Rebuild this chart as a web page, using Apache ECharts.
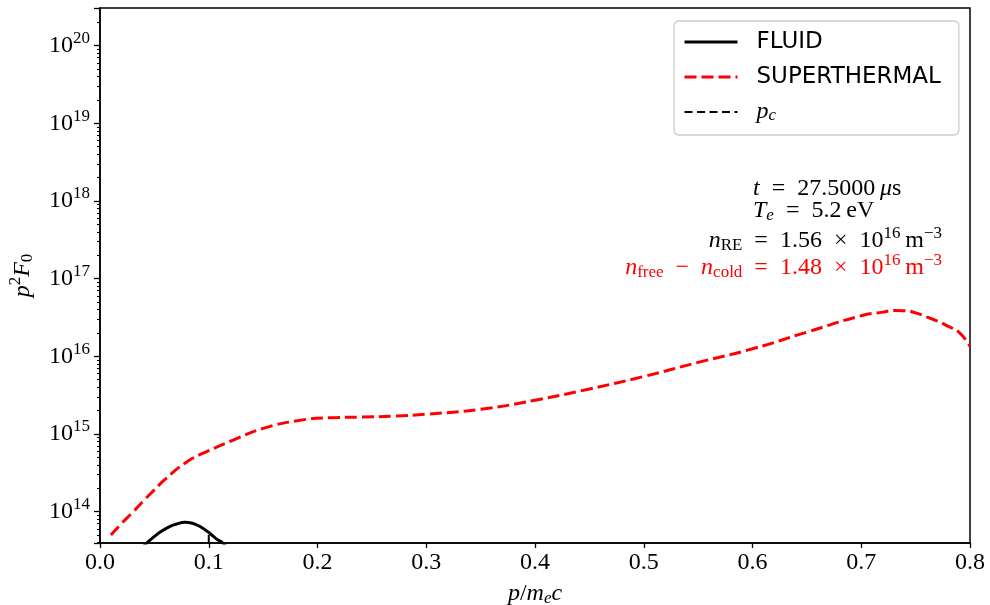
<!DOCTYPE html>
<html>
<head>
<meta charset="utf-8">
<script src="https://cdn.jsdelivr.net/npm/echarts@6/dist/echarts.min.js"></script>
<style>
  html, body { margin: 0; padding: 0; background: #fff; }
  #chart { width: 990px; height: 605px; }
</style>
</head>
<body>
<div id="chart"></div>
<script>
// Momentum grid (p / m_e c) of the superthermal distribution
const momentum = [0.01, 0.02, 0.03, 0.04, 0.05, 0.06, 0.08, 0.10, 0.12, 0.15, 0.18, 0.21,
  0.24, 0.27, 0.30, 0.35, 0.40, 0.45, 0.50, 0.55, 0.60, 0.65, 0.70, 0.72, 0.73, 0.74,
  0.75, 0.76, 0.77, 0.78, 0.79, 0.80];
// p^2 F_0 of the superthermal electrons
const superthermal = [5.0e13, 7.1e13, 9.8e13, 1.38e14, 1.91e14, 2.62e14, 4.4e14, 6.1e14,
  8.07e14, 1.18e15, 1.47e15, 1.62e15, 1.65e15, 1.70e15, 1.80e15, 2.08e15, 2.72e15, 3.80e15,
  5.50e15, 8.36e15, 1.25e16, 2.05e16, 3.33e16, 3.71e16, 3.89e16, 3.87e16, 3.63e16, 3.22e16,
  2.85e16, 2.43e16, 2.04e16, 1.35e16];
// Fluid (bulk) part of the distribution
const fluidMomentum = [0.035, 0.043, 0.05, 0.055, 0.064, 0.07, 0.078, 0.085, 0.092, 0.10,
  0.107, 0.113, 0.12];
const fluid = [3.0e13, 3.95e13, 4.8e13, 5.45e13, 6.44e13, 6.9e13, 7.33e13, 7.1e13, 6.44e13,
  5.4e13, 4.47e13, 3.95e13, 3.0e13];
// Critical momentum marker: drawn from the bottom of the axis up to the fluid curve
const pCritical = 0.1;
const pCriticalSpan = [3.954e13, 5.4e13];
// Axis ranges and tick labels
const xRange = [0, 0.8];
const xTickLabels = ['0.0', '0.1', '0.2', '0.3', '0.4', '0.5', '0.6', '0.7', '0.8'];
const yRange = [3.954e13, 3.05e20];
const yTickExponents = [14, 15, 16, 17, 18, 19, 20];
// Annotation values
const timeMicroseconds = '27.5000';
const electronTemp = '5.2';
const runawayDensity = '1.56';
const freeMinusCold = '1.48';
const densityExponent = '16';

const SERIF = "'Liberation Serif', 'DejaVu Serif', serif";
const SANS = "'DejaVu Sans', sans-serif";
const SP = '\u2002'; // en space around relations / operators

const pair = (xs, ys) => xs.map((x, i) => [x, ys[i]]);

// minor log ticks at k * 10^n, expressed as exponents for the tick-only axis
const yLogMin = Math.log10(yRange[0]);
const yLogMax = Math.log10(yRange[1]);
const minorTicks = [];
for (let n = 13; n <= 20; n++) {
  for (let k = 2; k <= 9; k++) {
    const v = n + Math.log10(k);
    if (v >= yLogMin && v <= yLogMax) minorTicks.push(v);
  }
}

// rich text pieces used by math-style labels (zrender props for graphic texts)
function mathRich(size, color) {
  const small = Math.round(size * 0.7);
  return {
    i: { fontFamily: SERIF, fontStyle: 'italic', fontSize: size, fill: color },
    r: { fontFamily: SERIF, fontSize: size, fill: color },
    sub: { fontFamily: SERIF, fontSize: small, fill: color, padding: [10, 0, 0, 0] },
    subi: { fontFamily: SERIF, fontStyle: 'italic', fontSize: small, fill: color, padding: [10, 0, 0, 0] },
    sup: { fontFamily: SERIF, fontSize: small, fill: color, padding: [0, 0, 14, 0] }
  };
}
// the same for ECharts-level text styles (color instead of fill)
function mathRichEc(size, color) {
  const out = mathRich(size, color);
  Object.keys(out).forEach(k => { out[k].color = color; delete out[k].fill; });
  return out;
}

function annotation(text, x, y, align, color) {
  return {
    type: 'text',
    x: x, y: y,
    z: 100,
    style: {
      text: text,
      fontFamily: SERIF,
      fontSize: 24,
      fill: color,
      align: align,
      verticalAlign: 'middle',
      rich: mathRich(24, color)
    }
  };
}

const chart = echarts.init(document.getElementById('chart'), null, { renderer: 'canvas' });

const option = {
  animation: false,
  backgroundColor: '#fff',
  textStyle: { fontFamily: SERIF, color: '#000' },
  grid: {
    left: 100, right: 20, top: 8, bottom: 62,
    show: true, borderColor: '#000', borderWidth: 1.5,
    backgroundColor: '#fff',
    containLabel: false,
    outerBoundsMode: 'none'
  },
  xAxis: {
    type: 'value',
    min: xRange[0], max: xRange[1], interval: 0.1,
    axisLine: { show: true, onZero: false, lineStyle: { color: '#000', width: 1.5 } },
    axisTick: { show: true, length: 5, lineStyle: { color: '#000', width: 1.3 } },
    splitLine: { show: false },
    axisLabel: {
      color: '#000', fontFamily: SERIF, fontSize: 24, margin: 8,
      formatter: v => xTickLabels[Math.round(v * 10)] || ''
    },
    name: '{i|p}{r|/}{i|m}{subi|e}{i|c}',
    nameLocation: 'middle',
    nameGap: 37,
    nameTextStyle: { fontFamily: SERIF, fontSize: 24, color: '#000', rich: mathRichEc(24, '#000') }
  },
  yAxis: [
    {
      type: 'log', logBase: 10,
      min: yRange[0], max: yRange[1],
      position: 'left',
      axisLine: { show: true, lineStyle: { color: '#000', width: 1.5 } },
      axisTick: { show: true, length: 6, lineStyle: { color: '#000', width: 1.3 } },
      splitLine: { show: false },
      minorTick: { show: false },
      axisLabel: {
        color: '#000', fontFamily: SERIF, fontSize: 24, margin: 10,
        formatter: v => {
          const e = Math.log10(v);
          const n = Math.round(e);
          if (Math.abs(e - n) > 1e-6 || yTickExponents.indexOf(n) < 0) return '';
          return '{r|10}{sup|' + n + '}';
        },
        rich: mathRichEc(24, '#000')
      },
      name: '{i|p}{sup|2}{i|F}{sub|0}',
      nameLocation: 'middle',
      nameRotate: 90,
      nameGap: 62,
      nameTextStyle: { fontFamily: SERIF, fontSize: 24, color: '#000', rich: mathRichEc(24, '#000') }
    },
    {
      // tick-only axis carrying the minor log ticks
      type: 'value',
      min: yLogMin, max: yLogMax,
      position: 'left', offset: 0,
      axisLine: { show: false },
      axisTick: { show: true, length: 3, customValues: minorTicks, lineStyle: { color: '#000', width: 1.1 } },
      axisLabel: { show: false },
      splitLine: { show: false }
    }
  ],
  legend: {
    orient: 'vertical',
    left: 674, top: 21,
    data: [
      { name: 'FLUID', lineStyle: { width: 3 } },
      { name: 'SUPERTHERMAL', lineStyle: { width: 3 } },
      { name: 'p_c', lineStyle: { width: 2 } }
    ],
    itemWidth: 53, itemHeight: 14, itemGap: 9,
    padding: [8, 18, 10, 9],
    backgroundColor: 'rgba(255,255,255,0.8)',
    borderColor: '#cccccc', borderWidth: 1.3, borderRadius: 5,
    selectedMode: false,
    // line-only legend keys: hide the marker drawn on top of the line
    itemStyle: { opacity: 0, borderWidth: 0 },
    formatter: name => name === 'p_c' ? '{i|p}{subi|c}' : name,
    textStyle: {
      fontFamily: SANS, fontSize: 23, color: '#000', lineHeight: 26,
      padding: [0, 0, 0, 14],
      rich: {
        i: { fontFamily: SERIF, fontStyle: 'italic', fontSize: 24, color: '#000', lineHeight: 26 },
        subi: { fontFamily: SERIF, fontStyle: 'italic', fontSize: 17, color: '#000', lineHeight: 18, padding: [8, 0, 0, 0] }
      }
    }
  },
  series: [
    {
      name: 'FLUID', type: 'line',
      data: pair(fluidMomentum, fluid),
      showSymbol: false, symbol: 'none', smooth: 0.4, clip: true,
      lineStyle: { color: '#000', width: 3, type: 'solid' },
      itemStyle: { color: '#000' },
      z: 3
    },
    {
      name: 'SUPERTHERMAL', type: 'line',
      data: pair(momentum, superthermal),
      showSymbol: false, symbol: 'none', smooth: 0.5, clip: true,
      lineStyle: { color: '#ff0000', width: 3, type: [12, 5] },
      itemStyle: { color: '#ff0000' },
      z: 4
    },
    {
      name: 'p_c', type: 'line',
      data: [[pCritical, pCriticalSpan[0]], [pCritical, pCriticalSpan[1]]],
      showSymbol: false, symbol: 'none', clip: true,
      lineStyle: { color: '#000', width: 2, type: [8, 4.5] },
      itemStyle: { color: '#000' },
      z: 5
    }
  ],
  graphic: [
    annotation('{i|t}' + SP + '=' + SP + timeMicroseconds + '\u2009{i|μ}s', 753, 189, 'left', '#000'),
    annotation('{i|T}{subi|e}' + SP + '=' + SP + electronTemp + '\u2009eV', 753, 211, 'left', '#000'),
    annotation('{i|n}{sub|RE}' + SP + '=' + SP + runawayDensity + SP + '×' + SP + '10{sup|' + densityExponent + '}\u2009m{sup|−3}', 942, 241, 'right', '#000'),
    annotation('{i|n}{sub|free}' + SP + '−' + SP + '{i|n}{sub|cold}' + SP + '=' + SP + freeMinusCold + SP + '×' + SP + '10{sup|' + densityExponent + '}\u2009m{sup|−3}', 942, 268, 'right', '#ff0000')
  ]
};

chart.setOption(option);
</script>
</body>
</html>
